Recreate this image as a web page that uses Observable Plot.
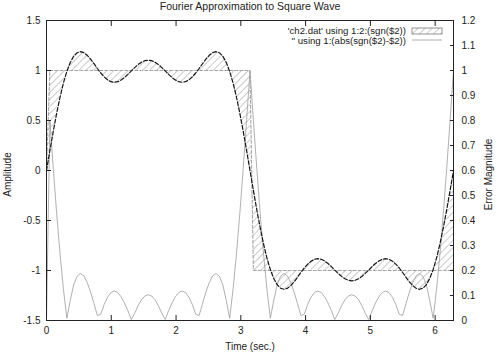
<!DOCTYPE html>
<html><head><meta charset="utf-8">
<script src="https://cdn.jsdelivr.net/npm/d3@7"></script>
<script src="https://cdn.jsdelivr.net/npm/@observablehq/plot@0.6"></script>
<style>body{margin:0;background:#fff} svg{display:block}</style>
</head><body><div id="chart"></div>
<script>
const time = [0,0.0524,0.1047,0.1571,0.2094,0.2618,0.3142,0.3665,0.4189,0.4712,0.5236,0.5760,0.6283,0.6807,0.7330,0.7854,0.8378,0.8901,0.9425,0.9948,1.0472,1.0996,1.1519,1.2043,1.2566,1.3090,1.3614,1.4137,1.4661,1.5184,1.5708,1.6232,1.6755,1.7279,1.7802,1.8326,1.8850,1.9373,1.9897,2.0420,2.0944,2.1468,2.1991,2.2515,2.3038,2.3562,2.4086,2.4609,2.5133,2.5656,2.6180,2.6704,2.7227,2.7751,2.8274,2.8798,2.9322,2.9845,3.0369,3.0892,3.1416,3.1940,3.2463,3.2987,3.3510,3.4034,3.4558,3.5081,3.5605,3.6128,3.6652,3.7176,3.7699,3.8223,3.8746,3.9270,3.9794,4.0317,4.0841,4.1364,4.1888,4.2412,4.2935,4.3459,4.3982,4.4506,4.5029,4.5553,4.6077,4.6600,4.7124,4.7648,4.8171,4.8695,4.9218,4.9742,5.0265,5.0789,5.1313,5.1836,5.2360,5.2883,5.3407,5.3931,5.4454,5.4978,5.5501,5.6025,5.6549,5.7072,5.7596,5.8119,5.8643,5.9166,5.9690,6.0214,6.0737,6.1261,6.1784,6.2308,6.2832];
const amplitude = [0,0.199,0.392,0.572,0.735,0.876,0.991,1.080,1.142,1.177,1.188,1.179,1.152,1.114,1.068,1.020,0.975,0.936,0.907,0.888,0.882,0.888,0.905,0.930,0.961,0.996,1.029,1.059,1.083,1.098,1.103,1.098,1.083,1.059,1.029,0.996,0.961,0.930,0.905,0.888,0.882,0.888,0.907,0.936,0.975,1.020,1.068,1.114,1.152,1.179,1.188,1.177,1.142,1.080,0.991,0.876,0.735,0.572,0.392,0.199,1e-16,
-0.199,-0.392,-0.572,-0.735,-0.876,-0.991,-1.080,-1.142,-1.177,-1.188,-1.179,-1.152,-1.114,-1.068,-1.020,-0.975,-0.936,-0.907,-0.888,-0.882,-0.888,-0.905,-0.930,-0.961,-0.996,-1.029,-1.059,-1.083,-1.098,-1.103,-1.098,-1.083,-1.059,-1.029,-0.996,-0.961,-0.930,-0.905,-0.888,-0.882,-0.888,-0.907,-0.936,-0.975,-1.020,-1.068,-1.114,-1.152,-1.179,-1.188,-1.177,-1.142,-1.080,-0.991,-0.876,-0.735,-0.572,-0.392,-0.199,-1e-16];
const xTicks = [0,1,2,3,4,5,6];
const yTicks = [-1.5,-1,-0.5,0,0.5,1,1.5];
const errTicks = [0,0.1,0.2,0.3,0.4,0.5,0.6,0.7,0.8,0.9,1,1.1,1.2];
const title = "Fourier Approximation to Square Wave";
const xLabel = "Time (sec.)";
const yLabel = "Amplitude";
const y2Label = "Error Magnitude";
const legendLabels = ["'ch2.dat' using 1:2:(sgn($2))", "'' using 1:(abs(sgn($2)-$2))"];

// map the right (error) axis 0..1.2 onto the left amplitude axis -1.5..1.5
const errToAmp = e => e * 2.5 - 1.5;
const ampToErr = a => Math.round(((a + 1.5) / 2.5) * 10) / 10;

const data = time.map((t, i) => {
  const a = amplitude[i];
  const s = Math.sign(a);
  return {t, a, s, e: Math.abs(s - a)};
});

const font = "'Liberation Sans', Arial, sans-serif";
const plot = Plot.plot({
  width: 500, height: 352,
  marginLeft: 46, marginRight: 47, marginTop: 20, marginBottom: 32,
  style: {fontFamily: font, fontSize: "10px", color: "#222", background: "#fff"},
  x: {domain: [0, 6.2832]},
  y: {domain: [-1.5, 1.5]},
  marks: [
    Plot.areaY(data, {x: "t", y1: "a", y2: "s", fill: "url(#hatch)"}),
    Plot.line(data, {x: "t", y: d => errToAmp(d.e), stroke: "#9c9c9c", strokeWidth: 0.8}),
    Plot.line(data, {x: "t", y: "s", stroke: "#a0a0a0", strokeWidth: 1, strokeDasharray: "3,2"}),
    Plot.line(data, {x: "t", y: "a", stroke: "#151515", strokeWidth: 1.2, strokeDasharray: "4,2"}),
    Plot.frame({stroke: "#222"}),
    Plot.axisX({anchor: "bottom", ticks: xTicks, tickSize: -5, tickPadding: 11, tickFormat: d => String(d), label: null}),
    Plot.axisX({anchor: "top", ticks: xTicks, tickSize: -5, tickFormat: () => "", label: null}),
    Plot.axisY({anchor: "left", ticks: yTicks, tickSize: -5, tickPadding: 11, tickFormat: d => String(d), label: null}),
    Plot.axisY({anchor: "right", ticks: errTicks.map(errToAmp), tickSize: -4, tickPadding: 12, tickFormat: d => String(ampToErr(d)), label: null}),
    Plot.text([title], {frameAnchor: "top", dy: -11, lineAnchor: "bottom", fontSize: 10.5, fill: "#222"}),
    Plot.text([xLabel], {frameAnchor: "bottom", dy: 29, lineAnchor: "bottom", fill: "#222"}),
    Plot.text([yLabel], {frameAnchor: "left", dx: -39, dy: 4, rotate: -90, textAnchor: "middle", fill: "#222"}),
    Plot.text([y2Label], {frameAnchor: "right", dx: 35, dy: 4, rotate: -90, textAnchor: "middle", fill: "#222"})
  ]
});

const svg = d3.select(plot);
const defs = svg.insert("defs", ":first-child");
const pat = defs.append("pattern").attr("id", "hatch").attr("patternUnits", "userSpaceOnUse")
  .attr("width", 5).attr("height", 5).attr("patternTransform", "rotate(45)");
pat.append("line").attr("x1", 0).attr("y1", 0).attr("x2", 0).attr("y2", 5)
  .attr("stroke", "#8c8c8c").attr("stroke-width", 0.9);

// legend (top right, inside the frame)
const lg = svg.append("g").attr("font-family", font).attr("font-size", 9.6).attr("fill", "#222");
lg.append("text").attr("x", 406).attr("y", 34).attr("text-anchor", "end").text(legendLabels[0]);
lg.append("text").attr("x", 406).attr("y", 44).attr("text-anchor", "end").text(legendLabels[1]);
lg.append("rect").attr("x", 412).attr("y", 28).attr("width", 30).attr("height", 6)
  .attr("fill", "url(#hatch)").attr("stroke", "#777").attr("stroke-width", 0.8);
lg.append("line").attr("x1", 412).attr("x2", 442).attr("y1", 40).attr("y2", 40)
  .attr("stroke", "#9c9c9c").attr("stroke-width", 0.8);

document.getElementById("chart").appendChild(plot);
</script>
</body></html>
